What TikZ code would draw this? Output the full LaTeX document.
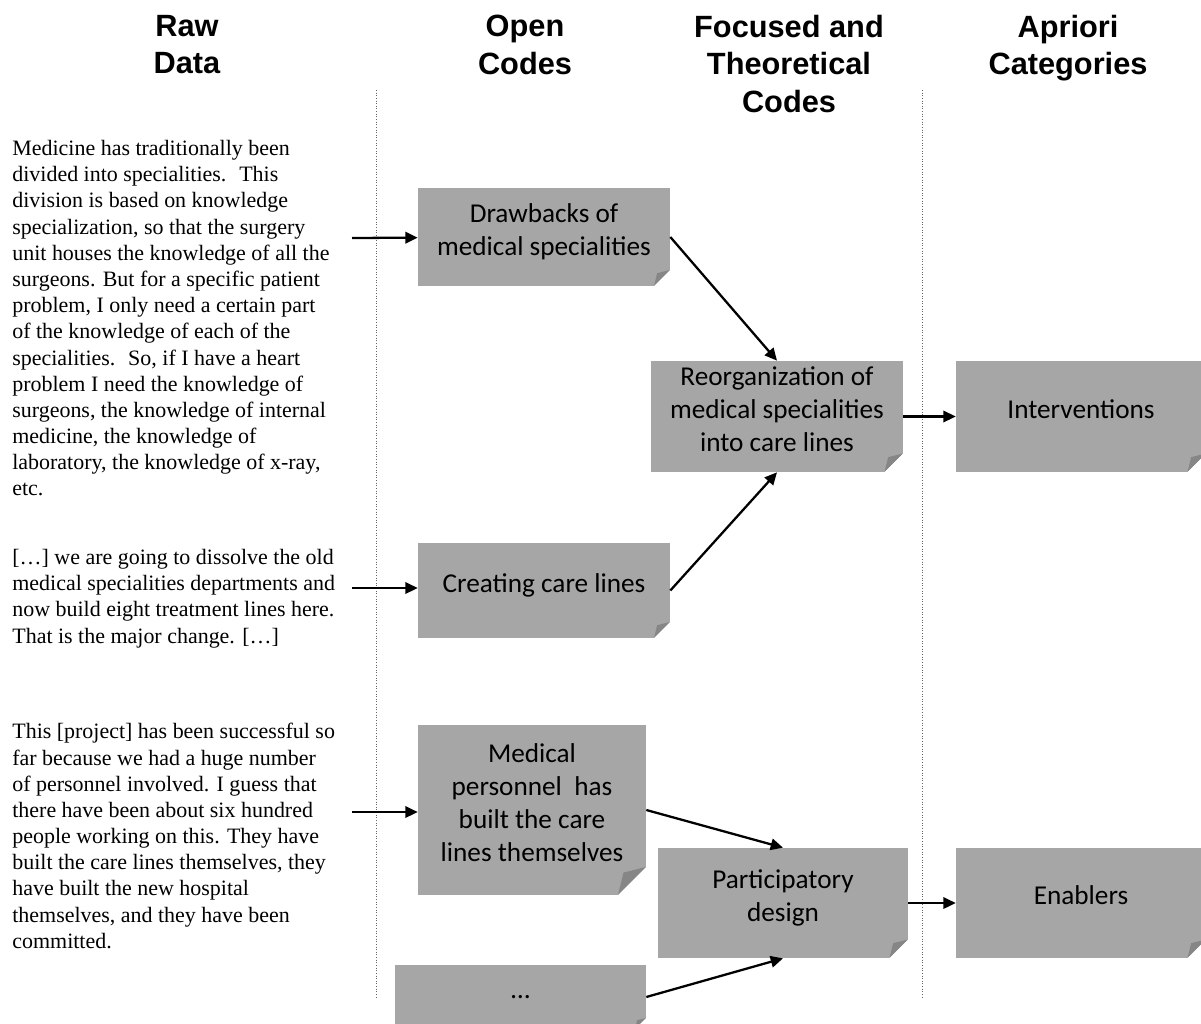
\documentclass[tikz,border=0pt]{standalone}
\usepackage{fontspec}
\setmainfont{Liberation Serif}
\newfontfamily\headfont{Liberation Sans}
\newfontfamily\codefont{Carlito}
\usetikzlibrary{arrows.meta}
\definecolor{notegray}{HTML}{A6A6A6}
\definecolor{foldgray}{HTML}{868686}
\newcommand{\codestrut}{\rule[-8.5pt]{0pt}{18.7pt}}

\begin{document}
\begin{tikzpicture}[x=0.02cm,y=-0.02cm,
  head/.style={font=\headfont\bfseries\fontsize{17.5}{21.2}\selectfont,align=center,anchor=north,inner sep=0pt},
  rawtext/.style={font=\fontsize{12.5}{14.9}\selectfont,align=left,anchor=north west,inner sep=0pt},
  note/.style={fill=notegray,inner sep=0pt,align=center,
    font=\codefont\fontsize{15.5}{18.7}\selectfont,
    execute at begin node=\codestrut,execute at end node=\codestrut,
    path picture={
      \fill[white] ([yshift=#1]path picture bounding box.south east) -- (path picture bounding box.south east)
        -- ([xshift=-#1]path picture bounding box.south east) -- cycle;
      \fill[foldgray] ([yshift=#1]path picture bounding box.south east) -- ([xshift=-#1]path picture bounding box.south east)
        -- ([shift={(-0.8*#1,0.8*#1)}]path picture bounding box.south east) -- cycle;
    }},
  note/.default=0.37cm,
  link/.style={-{Triangle[length=7pt,width=6.5pt]},line width=1.3pt},
  divider/.style={black!60,line width=0.5pt,densely dotted}]
\useasboundingbox (0,0) rectangle (1201,1024);

% column heads
\node[head] (rawhead) at (187,15) {Raw\\Data};
\node[head] (openhead) at (525,15) {Open\\Codes};
\node[head] (focushead) at (789,15) {Focused and\\Theoretical\\Codes};
\node[head] (aprihead) at (1068,15) {Apriori\\Categories};

\draw[divider] (376,90) -- (376,998);
\draw[divider] (922,90) -- (922,998);

% raw data
\node[rawtext] (raw1) at (12,140) {Medicine has traditionally been\\
divided into specialities.~ This\\
division is based on knowledge\\
specialization, so that the surgery\\
unit houses the knowledge of all the\\
surgeons. But for a specific patient\\
problem, I only need a certain part\\
of the knowledge of each of the\\
specialities.~ So, if I have a heart\\
problem I need the knowledge of\\
surgeons, the knowledge of internal\\
medicine, the knowledge of\\
laboratory, the knowledge of x-ray,\\
etc.};
\node[rawtext] (raw2) at (12,549) {[…] we are going to dissolve the old\\
medical specialities departments and\\
now build eight treatment lines here.\\
That is the major change. […]};
\node[rawtext] (raw3) at (12,723) {This [project] has been successful so\\
far because we had a huge number\\
of personnel involved. I guess that\\
there have been about six hundred\\
people working on this. They have\\
built the care lines themselves, they\\
have built the new hospital\\
themselves, and they have been\\
committed.};
\coordinate (in1) at (352,238);
\coordinate (in2) at (352,588);
\coordinate (in3) at (352,812);

% open codes
\node[note=0.32cm,minimum width=5.04cm,minimum height=1.96cm] (drawback) at (544,237) {Drawbacks of\\medical specialities};
\node[note=0.32cm,minimum width=5.04cm,minimum height=1.9cm] (careline) at (544,590.5) {Creating care lines};
\node[note=0.56cm,minimum width=4.56cm,minimum height=3.4cm] (staff) at (532,810) {Medical\\personnel~ has\\built the care\\lines themselves};
\node[note=0.22cm,minimum width=5.02cm,minimum height=1.28cm] (more) at (520.5,997) {…};

% focused and theoretical codes
\node[note,minimum width=5.04cm,minimum height=2.22cm] (reorg) at (777,416.5) {Reorganization of\\medical specialities\\into care lines};
\node[note,minimum width=5cm,minimum height=2.2cm] (partic) at (783,903) {Participatory\\design};

% apriori categories
\node[note,minimum width=5cm,minimum height=2.22cm] (interv) at (1081,416.5) {Interventions};
\node[note,minimum width=5cm,minimum height=2.2cm] (enabl) at (1081,903) {Enablers};

\draw[link] (in1) -- (drawback);
\draw[link] (in2) -- (careline.west |- in2);
\draw[link] (in3) -- (staff.west |- in3);
\draw[link] (drawback.east) -- (reorg.north);
\draw[link] (careline.east) -- (reorg.south);
\draw[link] (staff.east) -- (partic.north);
\draw[link] (more.east) -- (partic.south);
\draw[link] (reorg) -- (interv);
\draw[link] (partic) -- (enabl);
\end{tikzpicture}
\end{document}
